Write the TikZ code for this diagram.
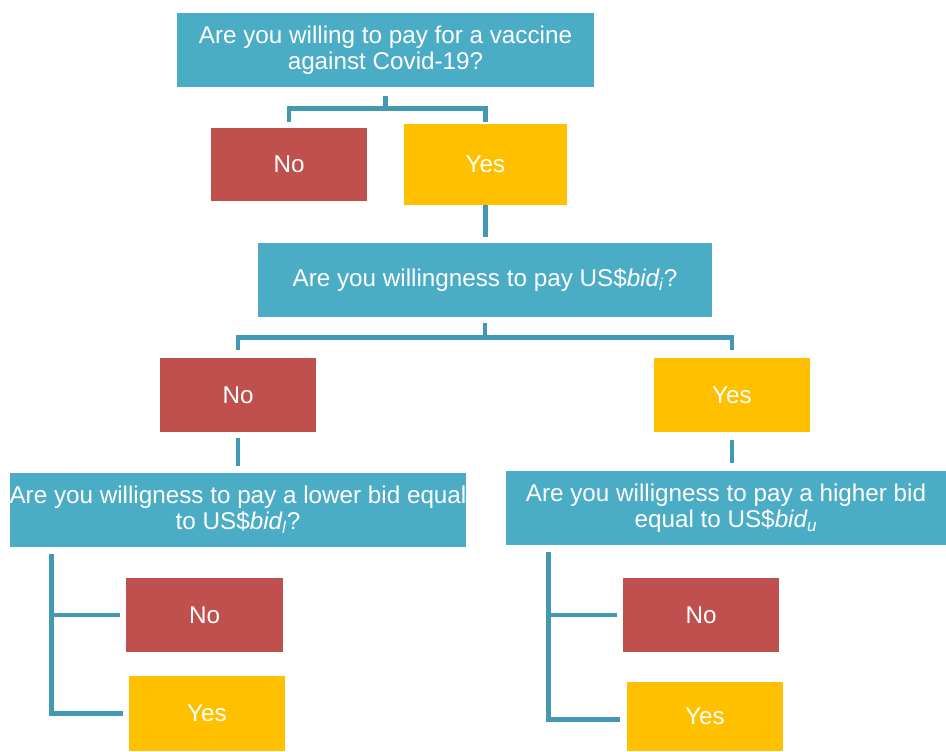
\documentclass[tikz,border=0pt]{standalone}
\usepackage{fontspec}
\setmainfont{Liberation Sans}
\usetikzlibrary{calc}
\definecolor{qteal}{HTML}{4BACC6}
\definecolor{lineteal}{HTML}{4399B3}
\definecolor{nored}{HTML}{C0504D}
\definecolor{yesgold}{HTML}{FFC000}
\tikzset{
  box/.style={inner sep=0pt,text=white,align=center,font=\fontsize{13.8}{14.9}\selectfont},
  qbox/.style={box,fill=qteal,minimum height=1.48cm},
  nobox/.style={box,fill=nored,minimum width=3.12cm,minimum height=1.48cm},
  yesbox/.style={box,fill=yesgold,minimum width=3.12cm,minimum height=1.48cm},
  link/.style={draw=lineteal,line width=2.8pt}
}
\begin{document}
\begin{tikzpicture}[x=0.02cm,y=-0.02cm]
	\useasboundingbox (0,0) rectangle (946,751);
	% questions
	\node[qbox,minimum width=8.34cm] (q1) at (385.5,50) {Are you willing to pay for a vaccine\\against Covid-19?};
	\node[qbox,minimum width=9.08cm] (q2) at (485,280) {Are you willingness to pay US\$\textit{bid\textsubscript{i}}?};
	\node[qbox,minimum width=9.08cm] (q3) at (238,510) {Are you willigness to pay a lower bid equal\\to US\$\textit{bid\textsubscript{l}}?};
	\node[qbox,minimum width=8.8cm] (q4) at (726,508) {Are you willigness to pay a higher bid\\equal to US\$\textit{bid\textsubscript{u}}};
	% answers
	\node[nobox] (no1) at (289,164.5) {No};
	\node[yesbox,minimum width=3.26cm,minimum height=1.62cm] (yes1) at (485.5,164.5) {Yes};
	\node[nobox] (no2) at (238,395) {No};
	\node[yesbox] (yes2) at (732,395) {Yes};
	\node[nobox,minimum width=3.14cm] (no3) at (204.5,615) {No};
	\node[yesbox,minimum height=1.5cm] (yes3) at (207,713.5) {Yes};
	\node[nobox] (no4) at (701,615) {No};
	\node[yesbox,minimum height=1.38cm] (yes4) at (705,716.5) {Yes};
	% connectors
	\draw[link] ($(q1.south)+(0,9)$) -- ++(0,12) -| ($(no1.north)+(0,-5)$);
	\draw[link] ($(q1.south)+(0,21)$) -| ($(yes1.north)+(0,-2)$);
	\draw[link] (yes1.south) -- ($(yes1.south |- q2.north)+(0,-6)$);
	\draw[link] ($(q2.south)+(0,6)$) -- ++(0,14) -| ($(no2.north)+(0,-8)$);
	\draw[link] ($(q2.south)+(0,20)$) -| ($(yes2.north)+(0,-8)$);
	\draw[link] ($(no2.south)+(0,6)$) -- ($(q3.north)+(0,-7)$);
	\draw[link] ($(yes2.south)+(0,8)$) -- ($(yes2.south |- q4.north)+(0,-8)$);
	\draw[link] ($(q3.south west)+(42,7)$) |- ($(yes3.west)+(-6,0)$);
	\draw[link] ($(q3.south west |- no3.west)+(42,0)$) -- ($(no3.west)+(-6,0)$);
	\draw[link] ($(q4.south west)+(43,7)$) |- ($(yes4.west)+(-7,3)$);
	\draw[link] ($(q4.south west |- no4.west)+(43,0)$) -- ($(no4.west)+(-6,0)$);
\end{tikzpicture}
\end{document}
